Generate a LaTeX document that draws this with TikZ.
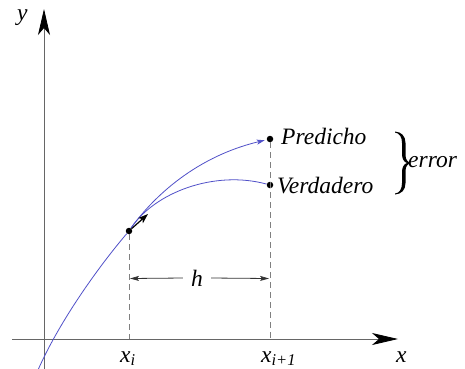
\documentclass[tikz,border=0pt]{standalone}
\usepackage{fontspec}
\setmainfont{Liberation Serif}
\usetikzlibrary{arrows.meta}
\definecolor{curveblue}{RGB}{80,80,200}
\begin{document}
\begin{tikzpicture}[x=1pt,y=-1pt,
  axis/.style={draw=black!60, line width=0.8pt},
  curve/.style={draw=curveblue, line width=0.8pt},
  guide/.style={draw=black!50, line width=0.9pt, dash pattern=on 6pt off 4pt},
  dot/.style={circle, fill=black, inner sep=0pt, minimum size=6.5pt},
  lbl/.style={font=\fontsize{23.5}{24}\selectfont\itshape, inner sep=0pt},
  harrow/.style={draw=black!80, line width=0.8pt, -{Stealth[length=9pt,width=5pt,inset=2pt]}},
  bigarrow/.style={-{Stealth[length=26pt,width=12pt,inset=7pt,color=black]}}
  ]
\useasboundingbox (0,0) rectangle (465,368);
\clip (0,0) rectangle (465,368);
% axes
\coordinate (ybot) at (44,370);
\coordinate (ytop) at (44,9);
\coordinate (xleft) at (12,339);
\coordinate (xright) at (398,339);
\draw[axis, bigarrow] (ybot) -- (ytop);
\draw[axis, bigarrow] (xleft) -- (xright);
% points
\node[dot] (pi) at (129,231) {};
\node[dot] (pp) at (270,139) {};
\node[dot] (pt) at (270,185) {};
\coordinate (cs) at (38,370);
\coordinate (xi) at (129,339);
\coordinate (xii) at (270,339);
% guides
\draw[guide] (pi) -- (xi);
\draw[guide] (pp) -- (xii);
% curves
\draw[curve] (cs) .. controls (60,320) and (100,265) .. (pi);
\draw[curve] (pi) .. controls (155,192) and (215,170) .. (pt);
\draw[curve, shorten >=2pt, -{Stealth[length=8pt,width=5pt,inset=2pt]}] (pi) .. controls (148,204) and (190,158) .. (pp);
% tangent
\coordinate (tan) at (148,214);
\draw[black, line width=1.2pt, -{Stealth[length=10pt,width=7pt,inset=2.5pt]}] (pi) -- (tan);
% h
\node[lbl, minimum width=28pt] (h) at (197,278) {h};
\coordinate (hl) at (130,278.5);
\coordinate (hr) at (269,278.5);
\draw[harrow] (h.west) -- (hl);
\draw[harrow] (h.east) -- (hr);
% labels
\node[lbl, anchor=base west] (lxi) at (120,362) {x\textsubscript{i}};
\node[lbl, anchor=base west] (lxii) at (261,362) {x\textsubscript{i+1}};
\node[lbl, anchor=base west] (lx) at (396,362) {x};
\node[lbl, anchor=base west] (ly) at (17,20) {y};
\node[lbl, anchor=base west] (lpred) at (281,144) {Predicho};
\node[lbl, anchor=base west] (ltrue) at (277,193) {Verdadero};
\node[lbl, anchor=base west] (lerr) at (408,167) {error};
% brace (filled, text-like)
\fill[black]
  (395,131.5) .. controls (401.5,132) and (405.5,136) .. (405.5,143)
  -- (405.5,155) .. controls (405.5,159.5) and (407.5,162) .. (411,163)
  .. controls (407.5,164) and (405.5,166.5) .. (405.5,171)
  -- (405.5,183) .. controls (405.5,190) and (401.5,194) .. (395,194.5)
  -- (395,193.5) .. controls (399.5,193) and (402,189) .. (402,183)
  -- (402,172) .. controls (402,167) and (404,164) .. (407,163)
  .. controls (404,162) and (402,159) .. (402,154)
  -- (402,143) .. controls (402,137) and (399.5,133) .. (395,132.5) -- cycle;
\end{tikzpicture}
\end{document}
